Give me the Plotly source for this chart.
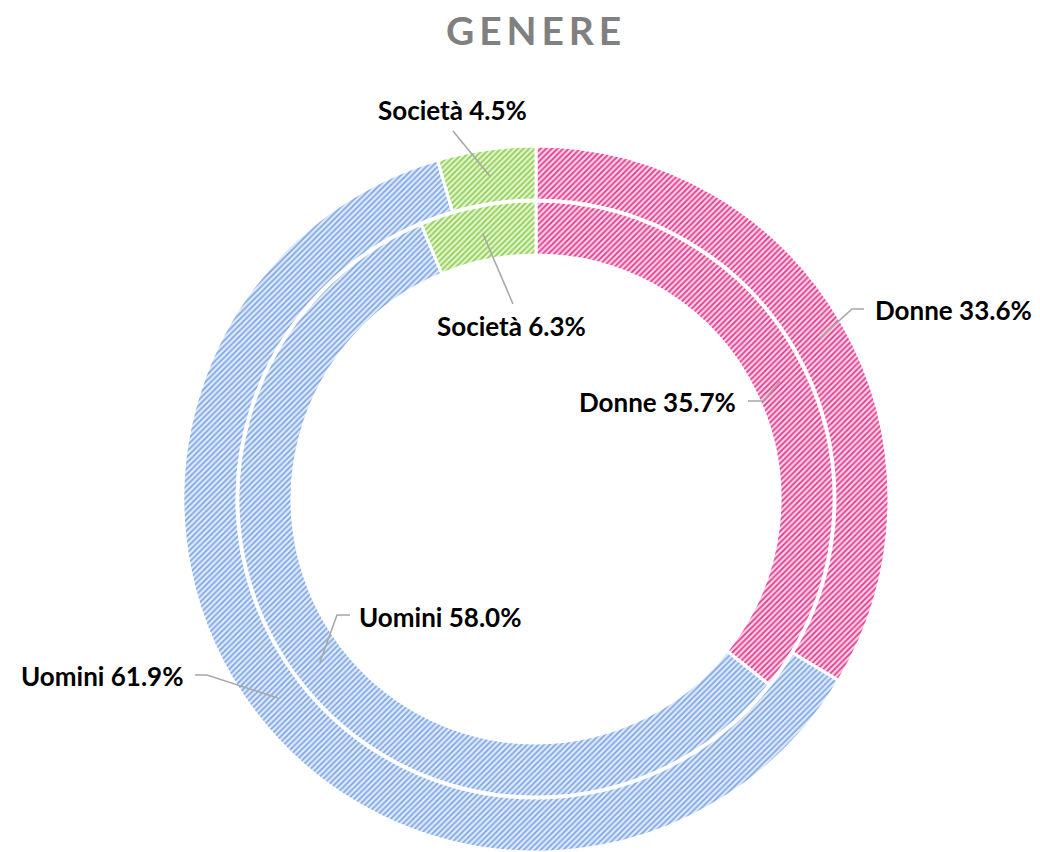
import math
import plotly.graph_objects as go

# ---------------- data ----------------
categories = ["Donne", "Uomini", "Società"]
outer_values = [33.6, 61.9, 4.5]
inner_values = [35.7, 58.0, 6.3]
title_text = "GENERE"

# ---------------- styles ----------------
line_colors = ["#E4358B", "#7BA5E6", "#8CCF4B"]
fill_colors = ["#FBD3E6", "#E0EAF9", "#E4F4D3"]

W, H = 1040, 852
OFF = 8                     # page body margin in the browser
CX, CY = 536, 499           # pixel centre of the rings (page coords)
R_OUT, HOLE_OUT = 353, 299  # outer ring radii (px)
R_IN, HOLE_IN = 298, 244    # inner ring radii (px)
FONT = "Lato"


def px(x, y):
    return (x - OFF) / W, (H - (y - OFF)) / H


def domain(r):
    x0, y0 = px(CX - r, CY + r)
    x1, y1 = px(CX + r, CY - r)
    return dict(x=[x0, x1], y=[max(0, y0), y1])


def ring(values, r, hole, name):
    return go.Pie(
        labels=categories, values=values, name=name,
        domain=domain(r), hole=hole / r,
        sort=False, direction="clockwise", rotation=0,
        textinfo="none", hoverinfo="label+percent",
        showlegend=False,
        marker=dict(
            colors=fill_colors,
            line=dict(color="white", width=3),
            pattern=dict(shape="/", size=4, solidity=0.42,
                         fgcolor=line_colors, bgcolor=fill_colors,
                         fillmode="replace"),
        ),
    )


fig = go.Figure()
fig.add_trace(ring(outer_values, R_OUT, HOLE_OUT, "esterno"))
fig.add_trace(ring(inner_values, R_IN, HOLE_IN, "interno"))


def mid_point(values, idx, radius):
    total = sum(values)
    start = sum(values[:idx]) / total * 360
    ang = math.radians(start + values[idx] / total * 360 / 2)
    return CX + radius * math.sin(ang), CY - radius * math.cos(ang)


# label placement (layout only): text anchor point, xanchor, elbow path
label_layout = [
    ("outer", 0, 873, 310, "left", [(852, 309), (864, 309)]),
    ("outer", 1, 185, 676, "right", [(207, 675), (195, 675)]),
    ("outer", 2, 452, 110, "center", [(453, 131)]),
    ("inner", 0, 738, 402, "right", [(763, 401), (748, 401)]),
    ("inner", 1, 357, 617, "left", [(337, 615), (350, 615)]),
    ("inner", 2, 511, 326, "center", [(513, 304)]),
]

annotations = []
shapes = []
for ringname, idx, tx, ty, xa, pts in label_layout:
    vals = outer_values if ringname == "outer" else inner_values
    r_mid = (R_OUT + HOLE_OUT) / 2 if ringname == "outer" else (R_IN + HOLE_IN) / 2
    ax, ay = mid_point(vals, idx, r_mid)
    path_pts = [(ax, ay)] + pts
    d = "M " + " L ".join(f"{px(x, y)[0]:.5f},{px(x, y)[1]:.5f}" for x, y in path_pts)
    shapes.append(dict(type="path", xref="paper", yref="paper", path=d,
                       line=dict(color="#A6A6A6", width=1.5)))
    txt = f"{categories[idx]} {vals[idx]:.1f}%"
    x0, y0 = px(tx, ty)
    annotations.append(dict(text=f"<b>{txt}</b>", x=x0, y=y0, xref="paper", yref="paper",
                            xanchor=xa, yanchor="middle", showarrow=False,
                            font=dict(family=FONT, size=26, color="#000000")))

# title
spaced_title = "\u200a\u200a".join(title_text)
tx, ty = px(CX - 3, 30)
annotations.append(dict(text=f"<b>{spaced_title}</b>", x=tx, y=ty, xref="paper", yref="paper",
                        xanchor="center", yanchor="middle", showarrow=False,
                        font=dict(family=FONT, size=39, color="#808080")))

fig.update_layout(
    width=W, height=H,
    margin=dict(l=0, r=0, t=0, b=0),
    paper_bgcolor="white", plot_bgcolor="white",
    annotations=annotations, shapes=shapes,
    showlegend=False,
)

fig.write_html("out.html")
